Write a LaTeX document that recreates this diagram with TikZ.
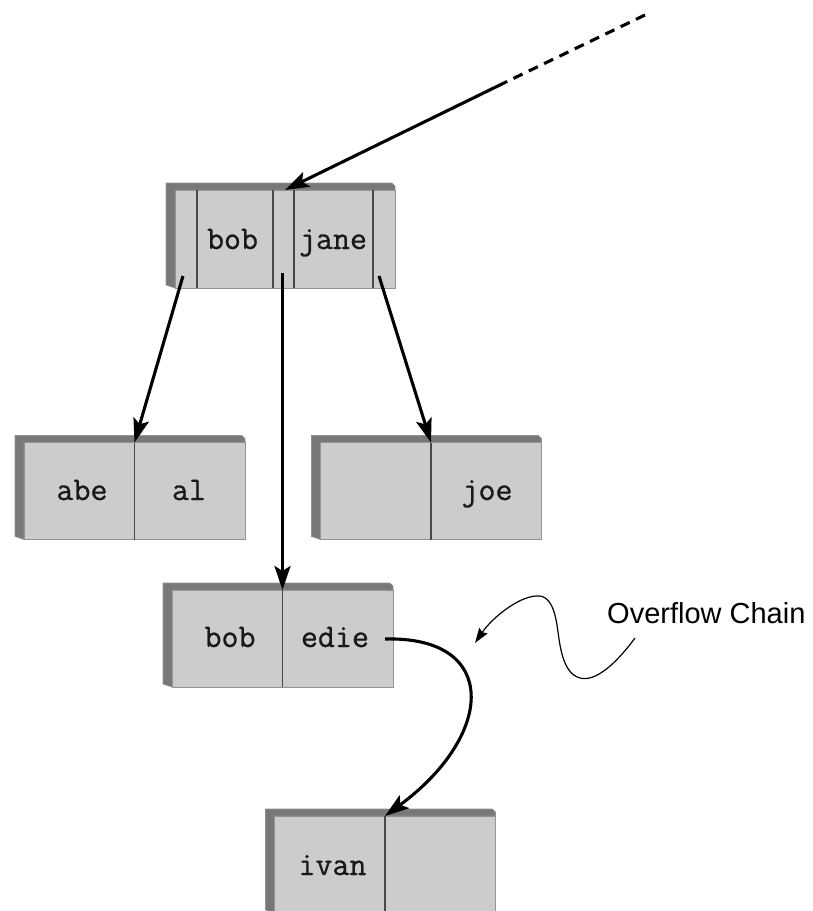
\documentclass[tikz,border=0pt]{standalone}
\usepackage{fontspec}
\newfontfamily\labelfont{Liberation Sans}
\newfontfamily\keyfont{Latin Modern Mono}[FakeBold=0.8]
\usetikzlibrary{arrows.meta,calc}

\definecolor{face}{gray}{0.80}
\definecolor{side}{gray}{0.47}
\definecolor{rim}{gray}{0.58}
\definecolor{divider}{gray}{0.28}

\tikzset{
  record/.style={draw=rim, line width=0.8pt, fill=face,
    minimum width=221pt, minimum height=97pt, inner sep=0pt, outer sep=0pt},
  key/.style={font=\keyfont\fontsize{33}{33}\selectfont, inner sep=0pt,
    text=black!90, anchor=base},
  sep/.style={draw=divider, line width=1.5pt},
  link/.style={line width=3.1pt, -{Stealth[length=24pt,width=16pt,inset=5pt]}},
  note/.style={line width=1.2pt, -{Stealth[length=15pt,width=10pt,inset=2pt]}},
}

% dark back edges on the left and top of a record box
\newcommand\recordbevel[1]{%
  \filldraw[fill=side, draw=rim, line width=0.6pt]
    (#1.south west) -- ++(-9,-3) -- ($(#1.north west)+(-9,-7)$)
    -- ($(#1.north east)+(-3,-7)$) -- ($(#1.north east)+(0,-4)$)
    -- (#1.north east) -- (#1.north west) -- cycle;}

% a two-slot record with a divider through the middle
\newcommand\tworecord[2]{%
  \node[record] (#1) at #2 {};
  \recordbevel{#1}
  \draw[sep] (#1.north) -- (#1.south);}

\begin{document}
\begin{tikzpicture}[x=1pt, y=-1pt]
\useasboundingbox (0,0) rectangle (813,911);
\clip (0,0) rectangle (813,911);

% root record with three pointer slots
\node[record, minimum width=220pt, minimum height=98pt] (root) at (285,239) {};
\recordbevel{root}
\foreach \dx in {-88,-12,9,88}
  \draw[sep] ([xshift=\dx pt]root.north) -- ([xshift=\dx pt]root.south);
\node[key] (kbob) at (232.5,249) {bob};
\node[key] (kjane) at (333,249) {jane};

% children
\tworecord{left}{(134.5,491)}
\node[key] (kabe) at (82,500) {abe};
\node[key] (kal) at (189,500) {al};

\tworecord{right}{(431,491)}
\node[key] (kjoe) at (487,500) {joe};

\tworecord{mid}{(282.5,638.5)}
\node[key] (kbob2) at (230,647) {bob};
\node[key] (kedie) at (335,647) {edie};

\tworecord{ovf}{(385,864.5)}
\node[key] (kivan) at (332.5,875) {ivan};

% incoming pointer from the parent level
\coordinate (far) at (645,15);
\coordinate (near) at (506,82);
\draw[line width=3.1pt, dashed, dash pattern=on 10pt off 7pt] (far) -- (near);
\draw[link] (near) -- (root.north);

% child pointers
\coordinate (p0) at (183,276);
\coordinate (p1) at (282.5,273);
\coordinate (p2) at (379,276);
\draw[link] (p0) -- (left.north);
\draw[link] (p1) -- (mid.north);
\draw[link] (p2) -- (right.north);

% overflow pointer
\coordinate (ovstart) at (385,639);
\draw[link] (ovstart) .. controls (500,636) and (495,735) .. (ovf.north);

% annotation
\node[font=\labelfont\fontsize{29}{29}\selectfont, anchor=west, inner sep=0pt]
  (ovlabel) at (607,613) {Overflow Chain};
\coordinate (nstart) at (635,638);
\coordinate (ntip) at (475,643);
\draw[note] (nstart) .. controls (615,665) and (595,682) .. (580,678)
  .. controls (562,673) and (560,645) .. (557,625)
  .. controls (553,600) and (545,595) .. (536,596)
  .. controls (518,597) and (492,618) .. (ntip);
\end{tikzpicture}
\end{document}
